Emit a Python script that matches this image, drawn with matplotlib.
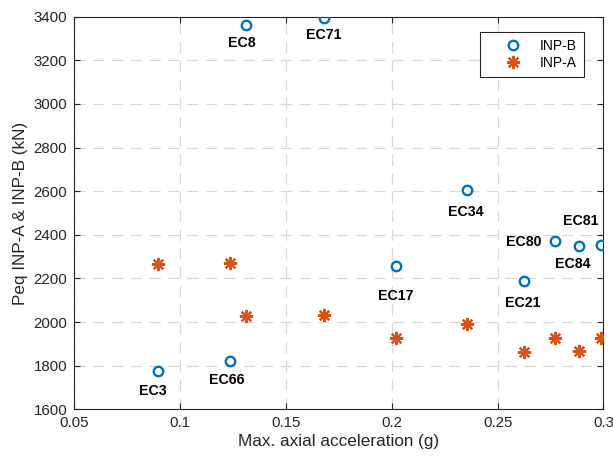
import matplotlib
matplotlib.use("Agg")
import matplotlib.pyplot as plt

plt.rcParams['font.family'] = ['Liberation Sans', 'DejaVu Sans']

# data
accel = [0.0898, 0.1234, 0.1313, 0.1679, 0.2019, 0.2357, 0.2625, 0.2772, 0.2884, 0.2989]
peq_b = [1776, 1820, 3362, 3396, 2256, 2607, 2188, 2372, 2350, 2354]
peq_a = [2266, 2269, 2027, 2033, 1928, 1989, 1863, 1925, 1868, 1925]
names = ['EC3', 'EC66', 'EC8', 'EC71', 'EC17', 'EC34', 'EC21', 'EC80', 'EC84', 'EC81']

# label offsets in pixels (dx, dy; dy positive = down)
label_off = [(-6, 20), (-3, 19), (-4, 18), (0, 17), (0, 30),
             (-2, 22), (-1, 22), (-31, 1), (-6, 18), (-20, -24)]

blue = '#0072BD'
orange = '#D95319'
dark = '#262626'

fig = plt.figure(figsize=(6.13, 4.59), dpi=100)
ax = fig.add_axes([0.121, 0.1083, 0.8635, 0.8553])

ax.plot(accel, peq_b, ls='none', marker='o', ms=6.8, mew=1.7,
        mfc='none', mec=blue, label='INP-B', zorder=3)
ax.plot(accel, peq_a, ls='none', marker=(8, 2, 0), ms=9.5, mew=1.6,
        mec=orange, color=orange, label='INP-A', zorder=3)

for x, y, name, (dx, dy) in zip(accel, peq_b, names, label_off):
    ax.annotate(name, (x, y), xytext=(dx, -dy), textcoords='offset pixels',
                ha='center', va='center', fontsize=10.2, fontweight='bold',
                color='black')

ax.set_xlim(0.05, 0.3)
ax.set_ylim(1600, 3400)
ax.set_xticks([0.05, 0.1, 0.15, 0.2, 0.25, 0.3])
ax.set_xticklabels(['0.05', '0.1', '0.15', '0.2', '0.25', '0.3'])
ax.set_yticks(range(1600, 3401, 200))

ax.grid(True, color='#d8d8d8', lw=0.9, ls=(0, (9, 6)))
ax.set_axisbelow(True)

ax.tick_params(direction='in', length=4, width=0.8, top=True, right=True,
               labelsize=10.8, colors=dark, pad=5)
for s in ax.spines.values():
    s.set_color(dark)
    s.set_linewidth(0.8)

ax.set_xlabel('Max. axial acceleration (g)', fontsize=12.3, color=dark, labelpad=3)
ax.set_ylabel('Peq INP-A & INP-B (kN)', fontsize=12.3, color=dark, labelpad=4)

leg = ax.legend(loc='upper right', bbox_to_anchor=(1 - 19.5 / 529, 1 - 15 / 392.6),
                borderaxespad=0, fancybox=False, edgecolor=dark, fontsize=10,
                handlelength=3.7, handletextpad=0.1, borderpad=0.5,
                labelspacing=0.25, framealpha=1)
leg.get_frame().set_linewidth(0.8)

fig.savefig('out.png', dpi=100)
